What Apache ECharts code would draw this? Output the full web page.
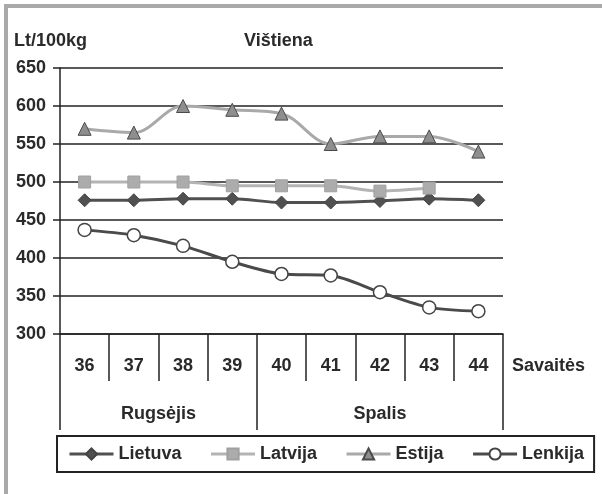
<!DOCTYPE html>
<html>
<head>
<meta charset="utf-8">
<script src="https://cdn.jsdelivr.net/npm/echarts@6/dist/echarts.min.js"></script>
<style>
  html, body { margin: 0; padding: 0; background: #fff; }
  #chart { width: 602px; height: 494px; }
  #frame { position: absolute; left: 4px; top: 4px; width: 602px; height: 494px;
           border-top: 4px solid #a9a9a9; border-left: 4px solid #a9a9a9; pointer-events: none; }
</style>
</head>
<body>
<div id="chart"></div>
<div id="frame"></div>
<script>
// savaitės ir mėnesiai
const weeks = ['36', '37', '38', '39', '40', '41', '42', '43', '44']
const months = ['Rugsėjis', 'Spalis']
const monthWeeks = [[36, 39], [40, 44]]

// kainos, Lt/100kg
const lietuva = [476, 476, 478, 478, 473, 473, 475, 478, 476]
const latvija = [500, 500, 500, 495, 495, 495, 488, 492, null]
const estija = [570, 565, 600, 595, 590, 550, 560, 560, 540]
const lenkija = [437, 430, 416, 395, 379, 377, 355, 335, 330]

const font = '"Liberation Sans", Arial, sans-serif'
const txt = { fontFamily: font, fontSize: 18, fontWeight: 'bold', color: '#2a2a2a' }

const monthEdges = [monthWeeks[0][0] - 0.5].concat(monthWeeks.map(m => m[1] + 0.5))
const monthMids = monthWeeks.map(m => (m[0] + m[1]) / 2)

const chart = echarts.init(document.getElementById('chart'))
chart.setOption({
  animation: false,
  title: [
    { text: 'Lt/100kg', left: 14, top: 32, padding: 0, textStyle: txt },
    { text: 'Vištiena', left: 244, top: 32, padding: 0, textStyle: txt }
  ],
  grid: { left: 60, right: 99, top: 68, bottom: 160 },
  legend: {
    left: 57,
    top: 436,
    padding: [9, 10, 9, 11],
    borderColor: '#222',
    borderWidth: 2,
    itemWidth: 44,
    itemHeight: 14,
    itemGap: 28,
    lineStyle: { width: 3 },
    textStyle: txt,
    data: ['Lietuva', 'Latvija', 'Estija', 'Lenkija']
  },
  graphic: [
    { type: 'text', left: 512, top: 357, style: { text: 'Savaitės', font: 'bold 18px ' + font, fill: '#2a2a2a' } }
  ],
  xAxis: [
    {
      type: 'category',
      data: weeks,
      boundaryGap: true,
      axisLine: { show: true, lineStyle: { color: '#222', width: 1.5 } },
      axisTick: { show: true, interval: 0, length: 47, lineStyle: { color: '#222', width: 1.5 } },
      axisLabel: { ...txt, interval: 0, margin: 23 },
      splitLine: { show: false }
    },
    {
      type: 'value',
      position: 'bottom',
      min: monthEdges[0],
      max: monthEdges[monthEdges.length - 1],
      axisLine: { show: false },
      axisTick: { show: true, length: 96, customValues: monthEdges, lineStyle: { color: '#222', width: 1.5 } },
      axisLabel: {
        ...txt,
        margin: 71,
        customValues: monthMids,
        formatter: v => months[monthMids.indexOf(v)] || ''
      },
      splitLine: { show: false }
    }
  ],
  yAxis: {
    type: 'value',
    min: 300,
    max: 650,
    interval: 50,
    axisLine: { show: true, lineStyle: { color: '#222', width: 1.5 } },
    axisTick: { show: true, length: 7, lineStyle: { color: '#222', width: 1.5 } },
    axisLabel: { ...txt, margin: 14 },
    splitLine: { lineStyle: { color: '#222', width: 1.5 } }
  },
  series: [
    {
      name: 'Lietuva', type: 'line', data: lietuva, smooth: 0.3,
      symbol: 'diamond', symbolSize: 13,
      lineStyle: { color: '#505050', width: 3 },
      itemStyle: { color: '#505050', borderColor: '#444', borderWidth: 1 }
    },
    {
      name: 'Latvija', type: 'line', data: latvija, smooth: 0.3,
      symbol: 'rect', symbolSize: 12,
      lineStyle: { color: '#b4b4b4', width: 3 },
      itemStyle: { color: '#acacac', borderColor: '#a0a0a0', borderWidth: 1 }
    },
    {
      name: 'Estija', type: 'line', data: estija, smooth: 0.35,
      symbol: 'triangle', symbolSize: 13,
      lineStyle: { color: '#a9a9a9', width: 3 },
      itemStyle: { color: '#8e8e8e', borderColor: '#4a4a4a', borderWidth: 1 }
    },
    {
      name: 'Lenkija', type: 'line', data: lenkija, smooth: 0.3,
      symbol: 'circle', symbolSize: 13,
      lineStyle: { color: '#4a4a4a', width: 3 },
      itemStyle: { color: '#fff', borderColor: '#444', borderWidth: 1.5 }
    }
  ]
})
</script>
</body>
</html>
